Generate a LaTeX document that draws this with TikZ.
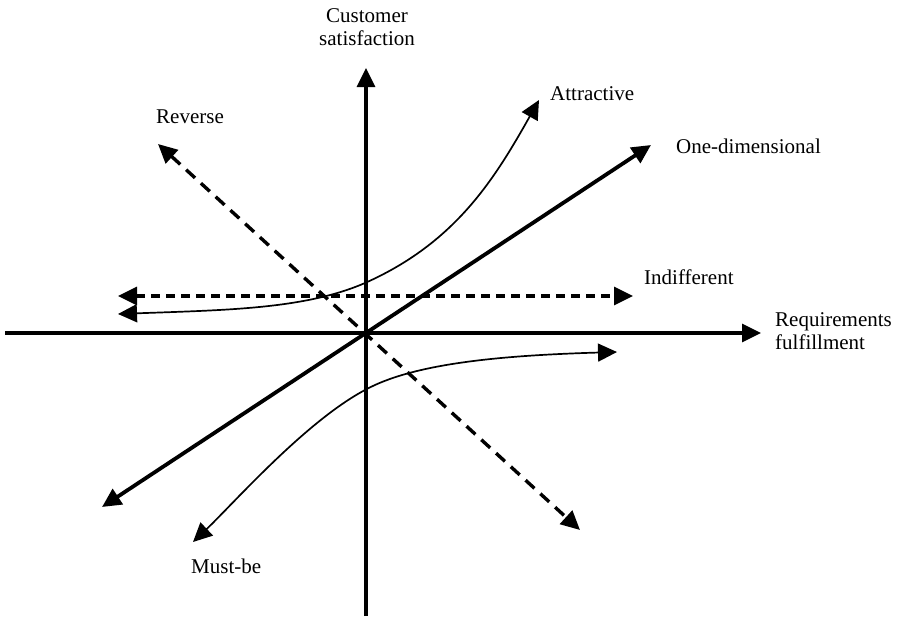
\documentclass[tikz,border=0pt]{standalone}
\usepackage{fontspec}
\setmainfont{Liberation Serif}
\usetikzlibrary{arrows.meta}
\tikzset{
  tip/.tip={Triangle[length=19pt,width=18pt]},
  axisline/.style={line width=3.4pt,-tip},
  onedim/.style={line width=3.8pt,tip-tip},
  thincurve/.style={line width=1.7pt,tip-tip},
  dashline/.style={line width=3.4pt,dash pattern=on 9pt off 6pt,tip-tip},
  dashdiag/.style={line width=3.4pt,dash pattern=on 12pt off 8pt,tip-tip},
  lbl/.style={font=\fontsize{21}{23}\selectfont,inner sep=0pt},
}
\begin{document}
\begin{tikzpicture}[x=1pt,y=-1pt]
\useasboundingbox (0,0) rectangle (897,618);
% named points
\coordinate (O) at (366,333);
\coordinate (xl) at (5,333);
\coordinate (xr) at (761,333);
\coordinate (yb) at (366,616);
\coordinate (yt) at (366,68);
\coordinate (odL) at (102,507);
\coordinate (odR) at (651,145);
\coordinate (inL) at (118,296);
\coordinate (inR) at (633,296);
\coordinate (rvL) at (158,144);
\coordinate (rvR) at (580,530);
\coordinate (atL) at (118,314);
\coordinate (atM) at (365,283);
\coordinate (atR) at (539,100);
\coordinate (mbL) at (193,542);
\coordinate (mbM) at (365,390);
\coordinate (mbR) at (617,352);
% axes
\draw[axisline] (xl) -- (xr);
\draw[axisline] (yb) -- (yt);
% one-dimensional
\draw[onedim] (odL) -- (odR);
% indifferent
\draw[dashline] (inL) -- (inR);
% reverse
\draw[dashdiag] (rvL) -- (rvR);
% attractive
\draw[thincurve] (atL) .. controls (228,310) and (305,309) .. (atM)
  .. controls (455,243) and (494,180) .. (atR);
% must-be
\draw[thincurve] (mbL) .. controls (233,504) and (305,422) .. (mbM)
  .. controls (412,364) and (497,355.5) .. (mbR);
% labels
\node[lbl,anchor=north,align=center] (cs) at (367,8) {Customer\\satisfaction};
\node[lbl,anchor=north west,align=left] (rf) at (775,312) {Requirements\\fulfillment};
\node[lbl,anchor=base west] (at) at (550,100) {Attractive};
\node[lbl,anchor=base west] (od) at (676,153) {One-dimensional};
\node[lbl,anchor=base west] (ind) at (644,284) {Indifferent};
\node[lbl,anchor=base west] (rev) at (156,123) {Reverse};
\node[lbl,anchor=base west] (mb) at (191,573) {Must-be};
\end{tikzpicture}
\end{document}
